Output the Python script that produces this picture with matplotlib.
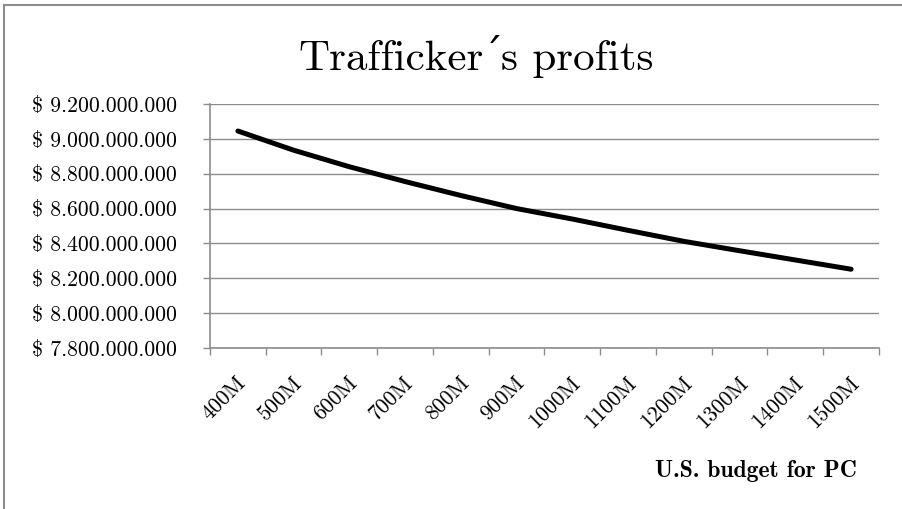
import matplotlib
matplotlib.use("Agg")
import matplotlib.pyplot as plt
import matplotlib.transforms as mtransforms
from matplotlib.lines import Line2D
from matplotlib.ticker import FuncFormatter
import numpy as np

budget_labels = ["400M", "500M", "600M", "700M", "800M", "900M",
                 "1000M", "1100M", "1200M", "1300M", "1400M", "1500M"]
profits = [9.045e9, 8.935e9, 8.840e9, 8.755e9, 8.675e9, 8.600e9,
           8.540e9, 8.475e9, 8.412e9, 8.358e9, 8.305e9, 8.252e9]

plt.rcParams["font.family"] = ["cmr10", "DejaVu Serif"]
plt.rcParams["axes.unicode_minus"] = False

grey = "#8c8c8c"

fig = plt.figure(figsize=(9.03, 5.09), dpi=100)
ax = fig.add_axes([210 / 903, 1 - 348 / 509, 669 / 903, 244 / 509])

x = np.arange(len(budget_labels))
ax.plot(x, profits, color="black", lw=3.6, solid_capstyle="round")

ax.set_xlim(-0.5, len(budget_labels) - 0.5)
ax.set_ylim(7.8e9, 9.2e9)
ax.set_yticks(np.arange(7.8e9, 9.2e9 + 1, 0.2e9))
ax.yaxis.set_major_formatter(
    FuncFormatter(lambda v, p: r"\$ " + f"{v:,.0f}".replace(",", ".")))
ax.grid(axis="y", color=grey, lw=1.0)
ax.set_axisbelow(True)

for side in ["top", "right"]:
    ax.spines[side].set_visible(False)
for side in ["left", "bottom"]:
    ax.spines[side].set_color(grey)
    ax.spines[side].set_linewidth(1.2)

ax.tick_params(axis="y", length=5, width=1, color=grey, pad=19, labelsize=15.7)

# category boundaries carry the tick marks, labels sit in the middle
ax.set_xticks(np.arange(-0.5, len(budget_labels)), minor=False)
ax.set_xticklabels([""] * (len(budget_labels) + 1))
ax.tick_params(axis="x", which="major", length=5, width=1, color=grey)
ax.set_xticks(x, minor=True)
ax.set_xticklabels(budget_labels, minor=True)
ax.tick_params(axis="x", which="minor", length=0, pad=23, labelsize=15.7)
offset = mtransforms.ScaledTranslation(5 / 100, 0, fig.dpi_scale_trans)
for lab in ax.get_xticklabels(minor=True):
    lab.set_rotation(45)
    lab.set_ha("right")
    lab.set_va("center")
    lab.set_rotation_mode("anchor")
    lab.set_transform(lab.get_transform() + offset)

# title in three pieces: cmr10 has no usable acute accent glyph
t1 = fig.text(0.3, 1 - 70 / 509, "Trafficker", ha="left", va="baseline", fontsize=31)
t2 = fig.text(0, 0, "´", ha="left", va="baseline", fontsize=31, family="DejaVu Serif")
t3 = fig.text(0, 0, "s profits", ha="left", va="baseline", fontsize=31)
fig.canvas.draw()
r = fig.canvas.get_renderer()
w1 = t1.get_window_extent(r).width
w2 = t2.get_window_extent(r).width
w3 = t3.get_window_extent(r).width
x0 = 478 - (w1 + w2 + w3) / 2
yb = 1 - 70 / 509
t1.set_position((x0 / 903, yb))
t2.set_position(((x0 + w1 - 2) / 903, yb))
t3.set_position(((x0 + w1 + w2 - 4) / 903, yb))

fig.text(857 / 903, 1 - 471 / 509, "U.S. budget for PC", ha="right", va="center",
         fontsize=17, fontweight="bold", family=["cmb10", "DejaVu Serif"])

# outer chart border (only top and left visible in the crop)
fig.add_artist(Line2D([4.5 / 903, 4.5 / 903], [0, 1 - 5 / 509], color=grey, lw=1.5,
                      transform=fig.transFigure))
fig.add_artist(Line2D([4.5 / 903, 1], [1 - 5 / 509, 1 - 5 / 509], color=grey, lw=1.5,
                      transform=fig.transFigure))

fig.savefig("out.png", dpi=100)
